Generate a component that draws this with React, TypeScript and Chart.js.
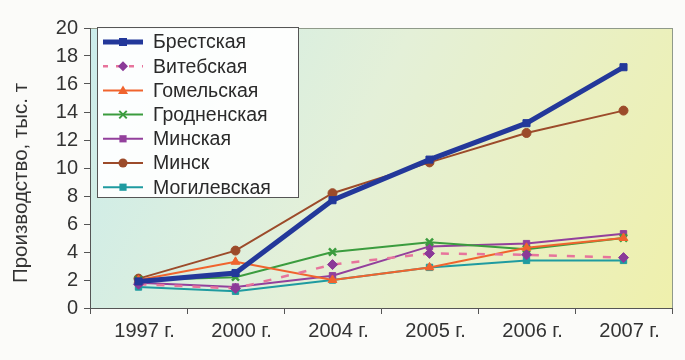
import React, { useEffect, useRef } from "react";
import { Chart, registerables } from "chart.js";

Chart.register(...registerables);

const categories = ["1997 г.", "2000 г.", "2004 г.", "2005 г.", "2006 г.", "2007 г."];
const brest = [1.9, 2.5, 7.7, 10.6, 13.2, 17.2];
const vitebsk = [1.7, 1.4, 3.1, 3.9, 3.8, 3.6];
const gomel = [2.0, 3.3, 2.0, 2.9, 4.3, 5.0];
const grodno = [2.0, 2.2, 4.0, 4.7, 4.2, 5.0];
const minskRegion = [1.8, 1.5, 2.3, 4.4, 4.6, 5.3];
const minskCity = [2.1, 4.1, 8.2, 10.4, 12.5, 14.1];
const mogilev = [1.5, 1.2, 2.0, 2.9, 3.4, 3.4];
const yTicks = [0, 2, 4, 6, 8, 10, 12, 14, 16, 18, 20];
const yTitle = "Производство, тыс. т";

const FONT = "'Liberation Sans', Arial, sans-serif";

type S = {
  label: string;
  data: number[];
  color: string;
  point: string;
  pointColor: string;
  width: number;
  dash: number[];
  radius: number;
};

const series: S[] = [
  { label: "Брестская", data: brest, color: "#23389a", point: "rect", pointColor: "#23389a", width: 5, dash: [], radius: 5 },
  { label: "Витебская", data: vitebsk, color: "#e7749c", point: "rectRot", pointColor: "#8b3a98", width: 2.5, dash: [8, 10], radius: 5 },
  { label: "Гомельская", data: gomel, color: "#f0642e", point: "triangle", pointColor: "#f0642e", width: 2, dash: [], radius: 5 },
  { label: "Гродненская", data: grodno, color: "#3b9c3e", point: "crossRot", pointColor: "#3b9c3e", width: 2, dash: [], radius: 5 },
  { label: "Минская", data: minskRegion, color: "#93409c", point: "rect", pointColor: "#93409c", width: 2, dash: [], radius: 4.5 },
  { label: "Минск", data: minskCity, color: "#9c4b2a", point: "circle", pointColor: "#9c4b2a", width: 2, dash: [], radius: 4.5 },
  { label: "Могилевская", data: mogilev, color: "#1f9ba0", point: "rect", pointColor: "#1f9ba0", width: 2, dash: [], radius: 4.5 },
];

const bgPlugin = {
  id: "plotBg",
  beforeDraw(chart: any) {
    const { ctx, chartArea: a } = chart;
    ctx.save();
    const g = ctx.createLinearGradient(a.left, a.top, a.right, a.bottom);
    g.addColorStop(0, "#cbeceb");
    g.addColorStop(0.45, "#e4f0d8");
    g.addColorStop(1, "#eff0ac");
    ctx.fillStyle = g;
    ctx.fillRect(a.left, a.top, a.right - a.left, a.bottom - a.top);
    ctx.strokeStyle = "#8f9a8a";
    ctx.lineWidth = 1;
    ctx.strokeRect(a.left + 0.5, a.top + 0.5, a.right - a.left, a.bottom - a.top);
    ctx.restore();
    // axis title
    ctx.save();
    ctx.translate(21, 183);
    ctx.rotate(-Math.PI / 2);
    ctx.font = `20.5px ${FONT}`;
    ctx.fillStyle = "#333";
    ctx.textAlign = "center";
    ctx.textBaseline = "middle";
    ctx.fillText(yTitle, 0, 0);
    ctx.restore();
  },
};

function drawPoint(ctx: CanvasRenderingContext2D, style: string, r: number, x: number, y: number) {
  ctx.beginPath();
  if (style === "rect") {
    ctx.rect(x - r * 0.8, y - r * 0.8, r * 1.6, r * 1.6);
    ctx.fill();
  } else if (style === "rectRot") {
    ctx.moveTo(x, y - r);
    ctx.lineTo(x + r, y);
    ctx.lineTo(x, y + r);
    ctx.lineTo(x - r, y);
    ctx.closePath();
    ctx.fill();
  } else if (style === "triangle") {
    ctx.moveTo(x, y - r);
    ctx.lineTo(x + r, y + r * 0.7);
    ctx.lineTo(x - r, y + r * 0.7);
    ctx.closePath();
    ctx.fill();
  } else if (style === "crossRot") {
    const d = r * 0.75;
    ctx.moveTo(x - d, y - d);
    ctx.lineTo(x + d, y + d);
    ctx.moveTo(x + d, y - d);
    ctx.lineTo(x - d, y + d);
    ctx.stroke();
  } else {
    ctx.arc(x, y, r, 0, Math.PI * 2);
    ctx.fill();
  }
}

const legendPlugin = {
  id: "innerLegend",
  afterDraw(chart: any) {
    const { ctx, chartArea: a } = chart;
    const x0 = a.left + 7;
    const y0 = a.top - 1;
    const w = 201;
    const h = 170;
    ctx.save();
    ctx.fillStyle = "rgba(255,255,255,0.93)";
    ctx.fillRect(x0, y0, w, h);
    ctx.strokeStyle = "#555";
    ctx.lineWidth = 1;
    ctx.strokeRect(x0 + 0.5, y0 + 0.5, w, h);
    ctx.font = `19.5px ${FONT}`;
    ctx.textBaseline = "middle";
    series.forEach((s, i) => {
      const y = y0 + 15 + i * 24.2;
      ctx.strokeStyle = s.color;
      ctx.lineWidth = s.width;
      ctx.setLineDash(s.dash.length ? [5, 8] : []);
      ctx.beginPath();
      ctx.moveTo(x0 + 6, y);
      ctx.lineTo(x0 + 46, y);
      ctx.stroke();
      ctx.setLineDash([]);
      ctx.fillStyle = s.pointColor;
      ctx.strokeStyle = s.pointColor;
      ctx.lineWidth = 2;
      drawPoint(ctx, s.point, s.radius, x0 + 26, y);
      ctx.fillStyle = "#2a2a2a";
      ctx.fillText(s.label, x0 + 56, y + 1);
    });
    ctx.restore();
  },
};

export default function App() {
  const ref = useRef<HTMLCanvasElement>(null);
  useEffect(() => {
    if (!ref.current) return;
    const chart = new Chart(ref.current, {
      type: "line",
      data: {
        labels: categories,
        datasets: series.map((s) => ({
          label: s.label,
          data: s.data,
          borderColor: s.color,
          backgroundColor: s.pointColor,
          pointBackgroundColor: s.pointColor,
          pointBorderColor: s.pointColor,
          pointStyle: s.point as any,
          pointRadius: s.radius,
          pointBorderWidth: s.point === "crossRot" ? 2.5 : 1,
          borderWidth: s.width,
          borderDash: s.dash,
          tension: 0,
          fill: false,
        })),
      },
      options: {
        responsive: false,
        animation: false,
        layout: { padding: { top: 28, right: 13, left: 0, bottom: 0 } },
        plugins: { legend: { display: false }, tooltip: { enabled: false } },
        scales: {
          x: {
            offset: true,
            grid: {
              display: true,
              drawOnChartArea: false,
              drawTicks: true,
              tickLength: 6,
              offset: true,
              color: "#555",
            },
            border: { display: true, color: "#555" },
            ticks: { color: "#333", font: { family: FONT, size: 20 }, padding: 5, maxRotation: 0, autoSkip: false, labelOffset: 6 },
            afterFit(scale: any) {
              scale.height = 52;
            },
          },
          y: {
            min: 0,
            max: 20,
            afterBuildTicks(scale: any) {
              scale.ticks = yTicks.map((v) => ({ value: v }));
            },
            grid: { display: true, drawOnChartArea: false, drawTicks: true, tickLength: 6, color: "#555" },
            border: { display: true, color: "#555" },
            ticks: { color: "#333", font: { family: FONT, size: 20 }, padding: 6 },
            afterFit(scale: any) {
              scale.width = 90;
            },
          },
        },
      },
      plugins: [bgPlugin, legendPlugin],
    });
    return () => chart.destroy();
  }, []);
  return (
    <div style={{ position: "fixed", left: 0, top: 0, width: 685, height: 360, background: "#fbfbf9" }}>
      <canvas ref={ref} width={685} height={360} style={{ width: 685, height: 360 }} />
    </div>
  );
}
